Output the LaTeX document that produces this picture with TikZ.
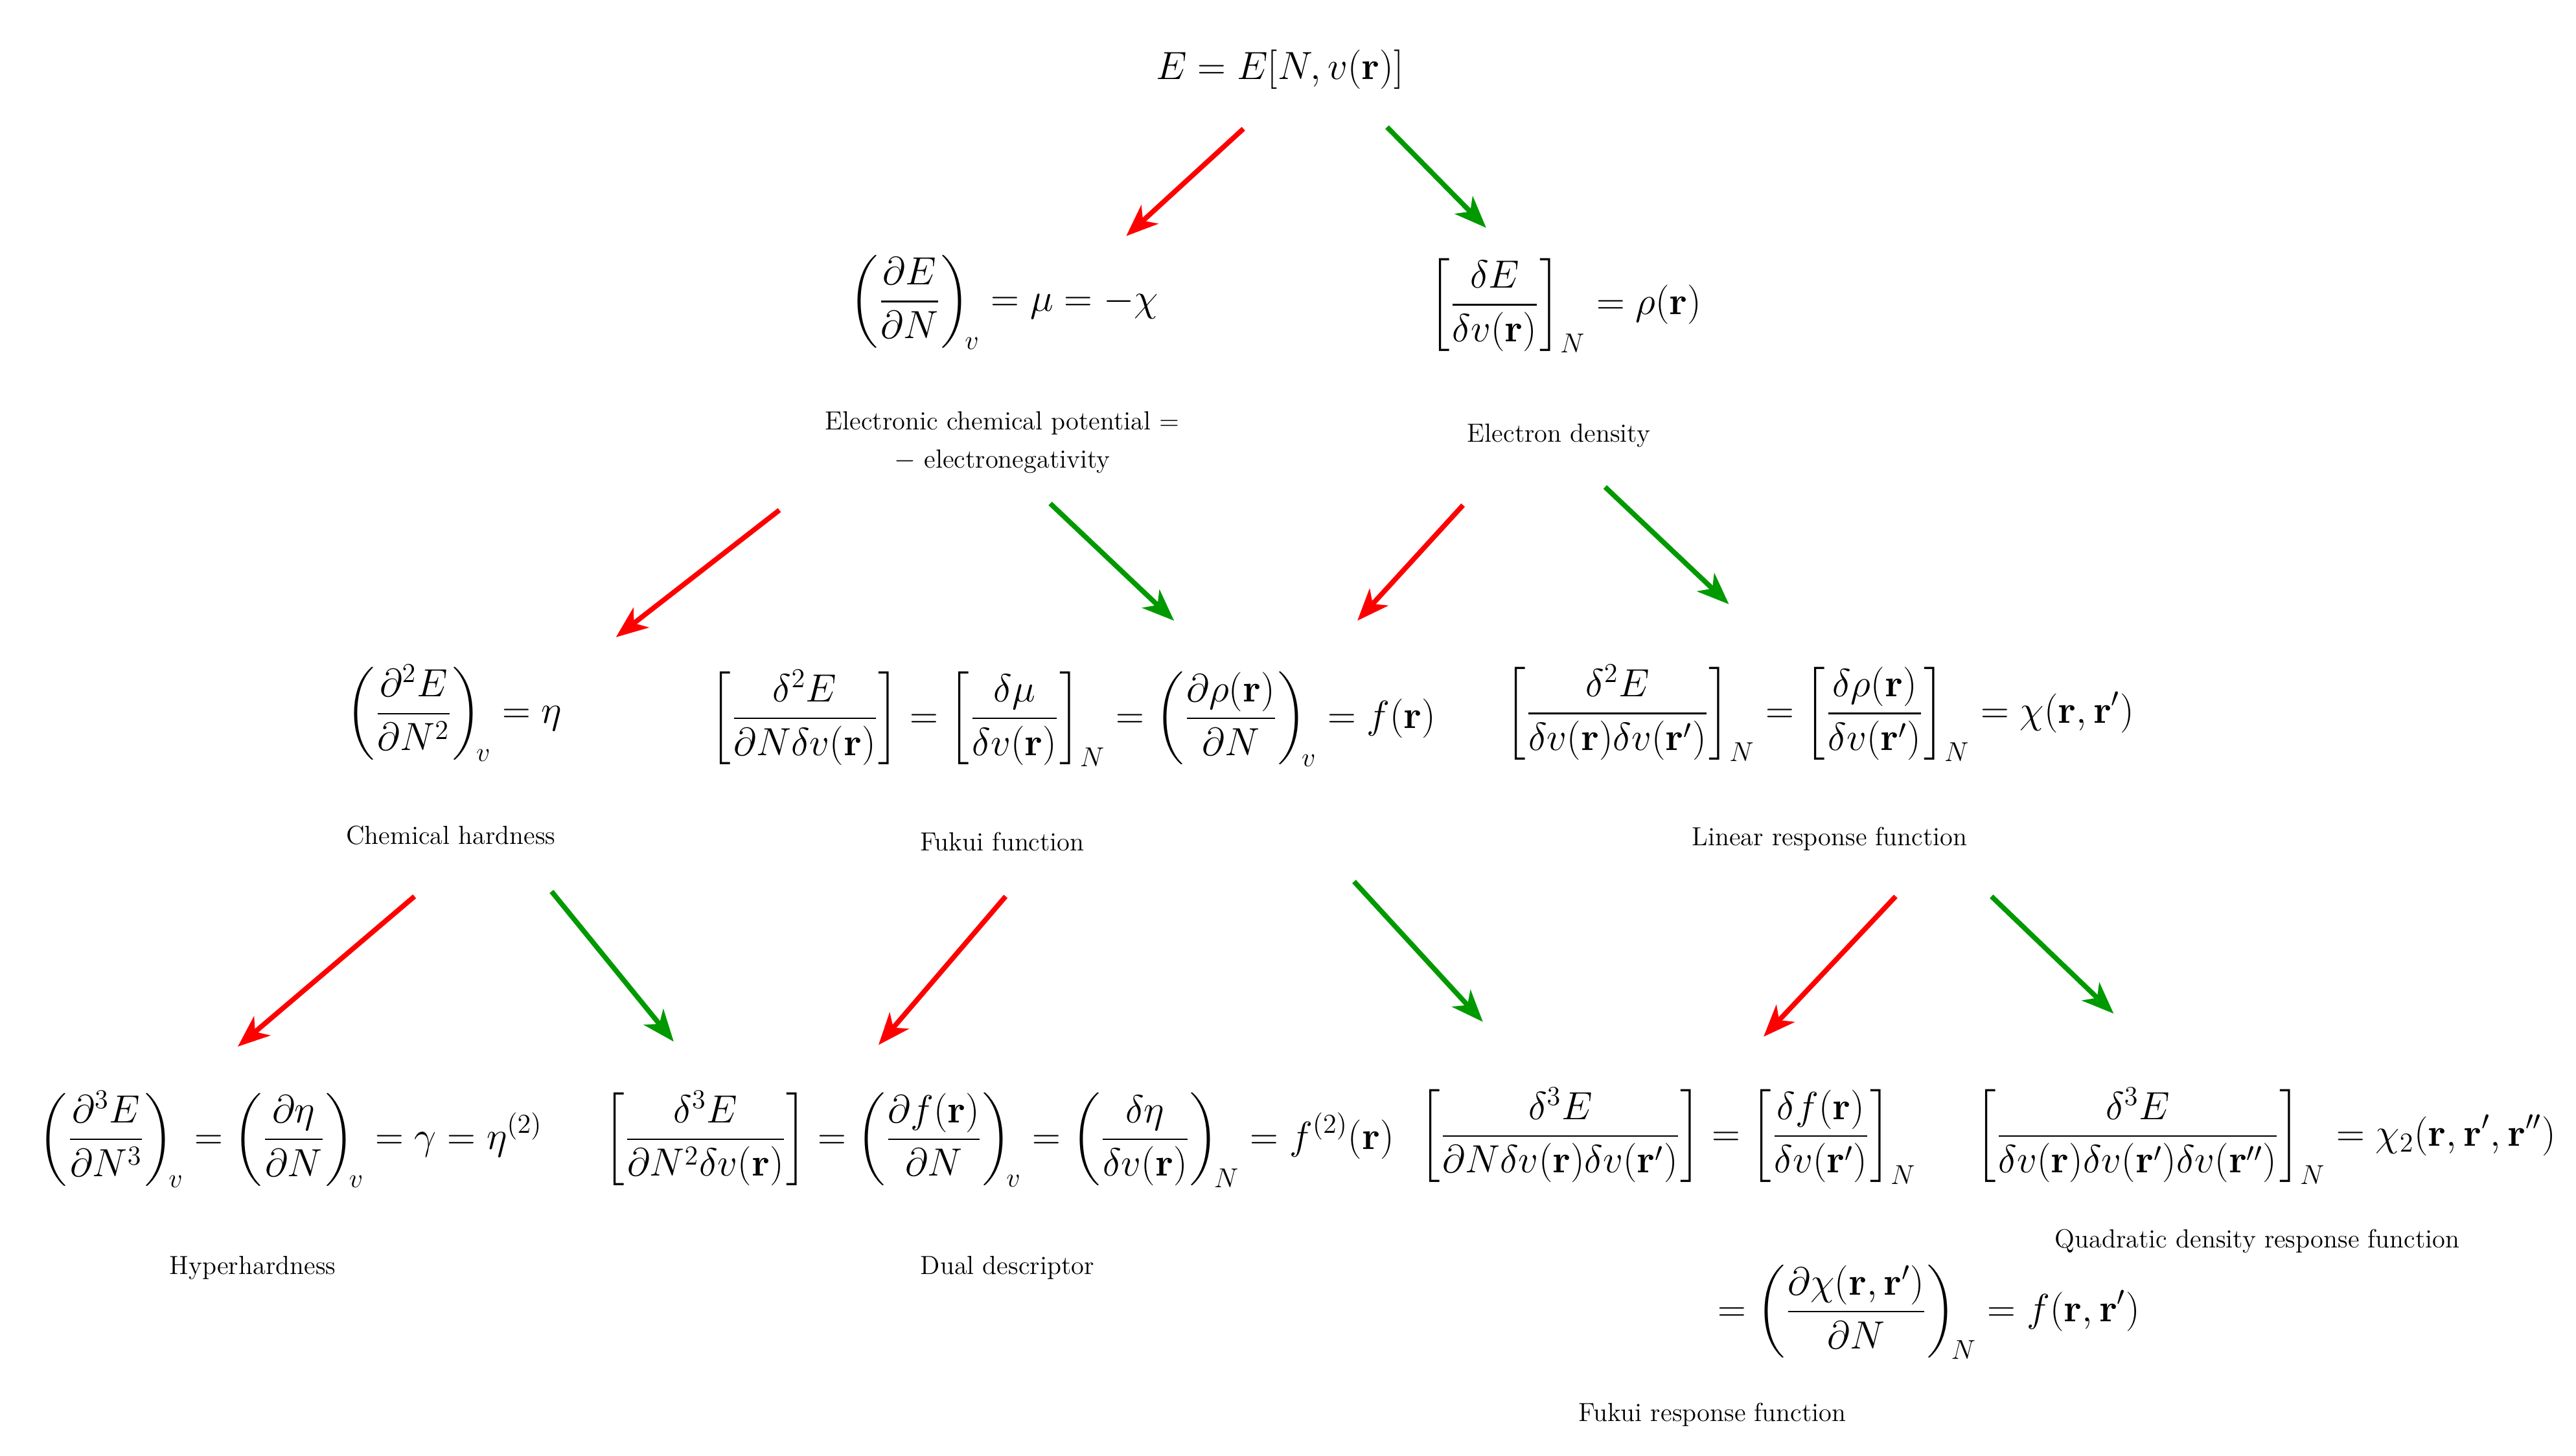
\documentclass[tikz,border=0pt]{standalone}
\usepackage{amsmath,amssymb}
\usetikzlibrary{arrows.meta}
\begin{document}
\begin{tikzpicture}[x=0.02549cm,y=-0.02549cm,
  f/.style={inner sep=0pt,font=\fontsize{17}{20}\selectfont},
  lab/.style={inner sep=0pt,align=center,font=\fontsize{11.5}{17}\selectfont},
  ar/.style={line width=2.2pt,-{Stealth[length=14pt,width=11pt,inset=4pt]}},
  r/.style={ar,red},
  g/.style={ar,green!60!black}]
\useasboundingbox (0,0) rectangle (1560,882);
\newcommand{\bfr}{\mathbf{r}}
\node[f] (top) at (775,42) {$E=E[N,v(\bfr)]$};
\node[f] (mu) at (608,183) {$\displaystyle\left(\frac{\partial E}{\partial N}\right)_{\!v}=\mu=-\chi$};
\node[lab] (mul) at (607,268) {Electronic chemical potential =\\ $-$ electronegativity};
\node[f] (rho) at (948,185) {$\displaystyle\left[\frac{\delta E}{\delta v(\bfr)}\right]_{N}=\rho(\bfr)$};
\node[lab] (rhol) at (944,264) {Electron density};
\node[f] (eta) at (275,432) {$\displaystyle\left(\frac{\partial^2 E}{\partial N^2}\right)_{\!v}=\eta$};
\node[lab] (etal) at (273,506) {Chemical hardness};
\node[f] (fk) at (650,435) {$\displaystyle\left[\frac{\delta^2 E}{\partial N\delta v(\bfr)}\right]=\left[\frac{\delta \mu}{\delta v(\bfr)}\right]_{N}=\left(\frac{\partial\rho(\bfr)}{\partial N}\right)_{\!v}=f(\bfr)$};
\node[lab] (fkl) at (607,510) {Fukui function};
\node[f] (chi) at (1102,432) {$\displaystyle\left[\frac{\delta^2 E}{\delta v(\bfr)\delta v(\bfr')}\right]_{N}=\left[\frac{\delta \rho(\bfr)}{\delta v(\bfr')}\right]_{N}=\chi(\bfr,\bfr')$};
\node[lab] (chil) at (1108,508) {Linear response function};
\node[f] (hy) at (176,690) {$\displaystyle\left(\frac{\partial^3 E}{\partial N^3}\right)_{\!v}=\left(\frac{\partial \eta}{\partial N}\right)_{\!v}=\gamma=\eta^{(2)}$};
\node[lab] (hyl) at (153,768) {Hyperhardness};
\node[f] (du) at (605,690) {$\displaystyle\left[\frac{\delta^3 E}{\partial N^2\delta v(\bfr)}\right]=\left(\frac{\partial f(\bfr)}{\partial N}\right)_{\!v}=\left(\frac{\delta \eta}{\delta v(\bfr)}\right)_{\!N}=f^{(2)}(\bfr)$};
\node[lab] (dul) at (610,768) {Dual descriptor};
\node[f] (fr) at (1010,688) {$\displaystyle\left[\frac{\delta^3 E}{\partial N\delta v(\bfr)\delta v(\bfr')}\right]=\left[\frac{\delta f(\bfr)}{\delta v(\bfr')}\right]_{N}$};
\node[f] (fr2) at (1168,795) {$\displaystyle=\left(\frac{\partial \chi(\bfr,\bfr')}{\partial N}\right)_{\!N}=f(\bfr,\bfr')$};
\node[lab] (frl) at (1037,857) {Fukui response function};
\node[f] (q) at (1372,688) {$\displaystyle\left[\frac{\delta^3 E}{\delta v(\bfr)\delta v(\bfr')\delta v(\bfr'')}\right]_{N}=\chi_2(\bfr,\bfr',\bfr'')$};
\node[lab] (ql) at (1367,752) {Quadratic density response function};
\foreach \n/\a/\b/\c/\d in {a1/753/78/682/143, a3/472/309/373/386, a5/886/306/822/376,
  a7/251/543/144/634, a9/609/543/532/633, a11/1148/543/1068/628}
  {\coordinate (\n s) at (\a,\b); \coordinate (\n e) at (\c,\d); \draw[r] (\n s) -- (\n e);}
\foreach \n/\a/\b/\c/\d in {a2/840/77/900/138, a4/636/305/711/376, a6/972/295/1047/366,
  a8/334/540/408/631, a10/820/534/898/619, a12/1206/543/1280/614}
  {\coordinate (\n s) at (\a,\b); \coordinate (\n e) at (\c,\d); \draw[g] (\n s) -- (\n e);}
\end{tikzpicture}
\end{document}
